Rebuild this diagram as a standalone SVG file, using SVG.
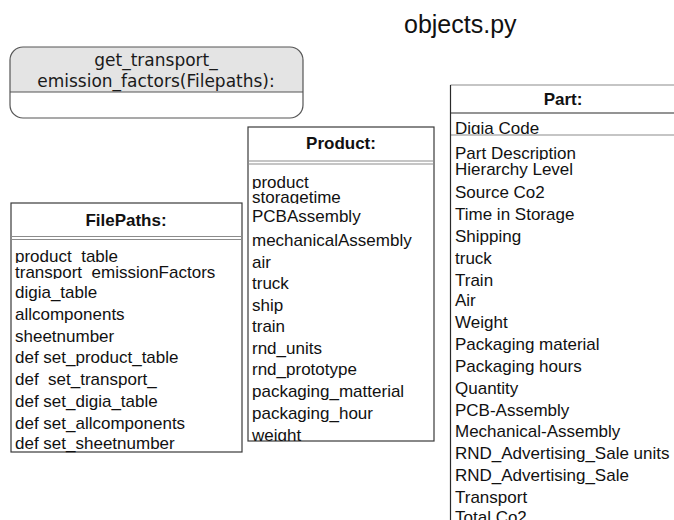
<svg xmlns="http://www.w3.org/2000/svg" width="674" height="520" viewBox="0 0 674 520">
  <style>
    .box { fill: #ffffff; stroke: #3a3a3a; stroke-width: 1.2; }
    .sep { stroke: #8c8c8c; stroke-width: 1.2; fill: none; }
    .dark { stroke: #2a2a2a; stroke-width: 1.2; fill: none; }
    .t { font-family: "Liberation Sans", Arial, sans-serif; font-size: 17px; fill: #111111; }
    .h { font-family: "Liberation Sans", Arial, sans-serif; font-size: 17px; font-weight: bold; fill: #111111; text-anchor: middle; }
    .fn { font-family: "DejaVu Sans", Verdana, sans-serif; font-size: 17px; fill: #1a1a1a; text-anchor: middle; }
    .title { font-family: "Liberation Sans", Arial, sans-serif; font-size: 25px; fill: #111111; }
  </style>
  <defs>
    <!-- rows whose descenders are cut at the row edge -->
    <clipPath id="clipFpRow1"><rect x="11" y="240" width="231" height="23"/></clipPath>
    <clipPath id="clipFpRow2"><rect x="11" y="263" width="231" height="16"/></clipPath>
    <clipPath id="clipPrRow1"><rect x="248" y="165" width="186" height="24"/></clipPath>
    <clipPath id="clipPrRow2"><rect x="248" y="189" width="186" height="15"/></clipPath>
    <clipPath id="clipPrLast"><rect x="248" y="420" width="186" height="21"/></clipPath>
    <clipPath id="clipPtCode"><rect x="451" y="114" width="223" height="20"/></clipPath>
    <clipPath id="clipPtDesc"><rect x="451" y="136" width="223" height="24"/></clipPath>
  </defs>

  <text class="title" x="404" y="33">objects.py</text>

  <!-- function box -->
  <g id="get_transport_emission_factors">
    <path d="M10,92 L10,60 Q10,47 23,47 L290,47 Q303,47 303,60 L303,92 Z" fill="#e4e4e4" stroke="none"/>
    <rect x="10" y="47" width="293" height="71" rx="13" ry="13" fill="none" stroke="#555555" stroke-width="1.2"/>
    <line x1="10" y1="92" x2="303" y2="92" stroke="#555555" stroke-width="1.2"/>
    <text class="fn" x="156" y="66">get_transport_</text>
    <text class="fn" x="156" y="87">emission_factors(Filepaths):</text>
  </g>

  <!-- FilePaths class -->
  <g id="FilePaths">
    <rect class="box" x="11" y="203" width="231" height="249"/>
    <line class="sep" x1="11" y1="236.5" x2="242" y2="236.5"/>
    <line class="sep" x1="11" y1="239.5" x2="242" y2="239.5"/>
    <text class="h" x="126" y="226">FilePaths:</text>
    <text class="t" x="15" y="262" clip-path="url(#clipFpRow1)">product_table</text>
    <text class="t" x="15" y="278" clip-path="url(#clipFpRow2)">transport_emissionFactors</text>
    <text class="t" x="15" y="298">digia_table</text>
    <text class="t" x="15" y="320">allcomponents</text>
    <text class="t" x="15" y="342">sheetnumber</text>
    <text class="t" x="15" y="363">def set_product_table</text>
    <text class="t" x="15" y="385">def&#160; set_transport_</text>
    <text class="t" x="15" y="407">def set_digia_table</text>
    <text class="t" x="15" y="429">def set_allcomponents</text>
    <text class="t" x="15" y="449">def set_sheetnumber</text>
  </g>

  <!-- Product class -->
  <g id="Product">
    <rect class="box" x="248" y="127" width="186" height="314"/>
    <line class="sep" x1="248" y1="161" x2="434" y2="161"/>
    <line class="sep" x1="248" y1="164" x2="434" y2="164"/>
    <text class="h" x="341" y="149">Product:</text>
    <text class="t" x="252" y="188" clip-path="url(#clipPrRow1)">product</text>
    <text class="t" x="252" y="203" clip-path="url(#clipPrRow2)">storagetime</text>
    <text class="t" x="252" y="222">PCBAssembly</text>
    <text class="t" x="252" y="246">mechanicalAssembly</text>
    <text class="t" x="252" y="268">air</text>
    <text class="t" x="252" y="289">truck</text>
    <text class="t" x="252" y="311">ship</text>
    <text class="t" x="252" y="332">train</text>
    <text class="t" x="252" y="354">rnd_units</text>
    <text class="t" x="252" y="375">rnd_prototype</text>
    <text class="t" x="252" y="397">packaging_matterial</text>
    <text class="t" x="252" y="419">packaging_hour</text>
    <text class="t" x="252" y="441" clip-path="url(#clipPrLast)">weight</text>
  </g>

  <!-- Part class, running past the right and bottom edges -->
  <g id="Part">
    <rect x="450.5" y="85" width="230" height="440" fill="#ffffff" stroke="none"/>
    <line class="sep" x1="450.5" y1="85" x2="674" y2="85"/>
    <line class="dark" x1="450.5" y1="113" x2="674" y2="113"/>
    <line class="sep" x1="450.5" y1="135" x2="674" y2="135"/>
    <line class="dark" x1="450.5" y1="85" x2="450.5" y2="520"/>
    <text class="h" x="563" y="105">Part:</text>
    <text class="t" x="455" y="134" clip-path="url(#clipPtCode)">Digia Code</text>
    <text class="t" x="455" y="159" clip-path="url(#clipPtDesc)">Part Description</text>
    <text class="t" x="455" y="175">Hierarchy Level</text>
    <text class="t" x="455" y="198">Source Co2</text>
    <text class="t" x="455" y="220">Time in Storage</text>
    <text class="t" x="455" y="242">Shipping</text>
    <text class="t" x="455" y="264">truck</text>
    <text class="t" x="455" y="286">Train</text>
    <text class="t" x="455" y="306">Air</text>
    <text class="t" x="455" y="328">Weight</text>
    <text class="t" x="455" y="350">Packaging material</text>
    <text class="t" x="455" y="372">Packaging hours</text>
    <text class="t" x="455" y="394">Quantity</text>
    <text class="t" x="455" y="416">PCB-Assembly</text>
    <text class="t" x="455" y="437">Mechanical-Assembly</text>
    <text class="t" x="455" y="459">RND_Advertising_Sale units</text>
    <text class="t" x="455" y="481">RND_Advertising_Sale</text>
    <text class="t" x="455" y="503">Transport</text>
    <text class="t" x="455" y="523">Total Co2</text>
  </g>

  <!-- no connectors are drawn between these nodes -->
  <g id="connectors"></g>
</svg>
